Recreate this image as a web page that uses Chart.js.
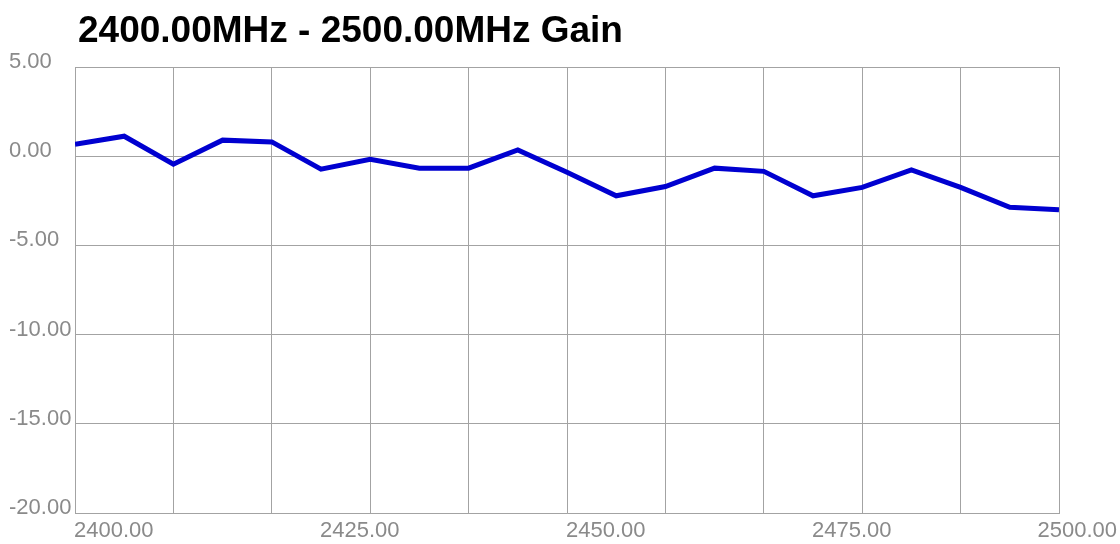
<!DOCTYPE html>
<html>
<head>
<meta charset="utf-8">
<title>2400.00MHz - 2500.00MHz Gain</title>
<script src="https://cdn.jsdelivr.net/npm/chart.js@4.4.1/dist/chart.umd.min.js"></script>
<style>
    html, body { margin: 0; padding: 0; background: #ffffff; }
    #wrap { position: relative; width: 1120px; height: 544px; }
</style>
</head>
<body>
<div id="wrap"><canvas id="gainChart"></canvas></div>
<script>
// Chart data
const TITLE = '2400.00MHz - 2500.00MHz Gain';
const freqs = [2400, 2405, 2410, 2415, 2420, 2425, 2430, 2435, 2440, 2445, 2450,
               2455, 2460, 2465, 2470, 2475, 2480, 2485, 2490, 2495, 2500];
const gain = [0.67, 1.12, -0.45, 0.9, 0.8, -0.73, -0.17, -0.67, -0.67, 0.35, -0.9,
              -2.22, -1.7, -0.67, -0.85, -2.22, -1.75, -0.77, -1.75, -2.86, -3.0];
const xTickValues = [2400, 2425, 2450, 2475, 2500];
const xTickLabels = ['2400.00', '2425.00', '2450.00', '2475.00', '2500.00'];
const yTickValues = [5, 0, -5, -10, -15, -20];
const yTickLabels = ['5.00', '0.00', '-5.00', '-10.00', '-15.00', '-20.00'];

const LABEL_FONT = '22px "Liberation Sans", Arial, sans-serif';
const LABEL_COLOR = '#8a8a8a';
const GRID_COLOR = '#a3a3a3';

// Draws the title and the axis labels the way the original plot places them
const labelPlugin = {
    id: 'gainLabels',
    afterDraw(chart) {
        const ctx = chart.ctx;
        const xs = chart.scales.x;
        const ys = chart.scales.y;
        ctx.save();

        ctx.fillStyle = '#000000';
        ctx.font = 'bold 37px "Liberation Sans", Arial, sans-serif';
        ctx.textAlign = 'left';
        ctx.textBaseline = 'alphabetic';
        ctx.fillText(TITLE, 78, 42);

        ctx.font = LABEL_FONT;
        ctx.fillStyle = LABEL_COLOR;
        yTickValues.forEach((v, i) => {
            ctx.fillText(yTickLabels[i], 9, ys.getPixelForValue(v) + 1);
        });

        xTickValues.forEach((v, i) => {
            const w = ctx.measureText(xTickLabels[i]).width;
            let left = xs.getPixelForValue(v) - 1;
            left = Math.min(left, chart.width - w - 3);
            ctx.fillText(xTickLabels[i], left, 537);
        });
        ctx.restore();
    }
};

const ctx = document.getElementById('gainChart').getContext('2d');
new Chart(ctx, {
    type: 'line',
    data: {
        datasets: [{
            label: 'Gain',
            data: freqs.map((f, i) => ({ x: f, y: gain[i] })),
            borderColor: '#0000d0',
            borderWidth: 5,
            pointRadius: 0,
            tension: 0,
            fill: false
        }]
    },
    options: {
        responsive: true,
        maintainAspectRatio: false,
        animation: false,
        layout: {
            padding: { left: 75, top: 67, right: 61, bottom: 31 }
        },
        plugins: {
            legend: { display: false },
            title: { display: false },
            tooltip: { enabled: false }
        },
        scales: {
            x: {
                type: 'linear',
                min: 2400,
                max: 2500,
                ticks: { display: false, stepSize: 10 },
                grid: { color: GRID_COLOR, drawTicks: false },
                border: { color: GRID_COLOR }
            },
            y: {
                min: -20,
                max: 5,
                ticks: { display: false, stepSize: 5 },
                grid: { color: GRID_COLOR, drawTicks: false },
                border: { color: GRID_COLOR }
            }
        }
    },
    plugins: [labelPlugin]
});
</script>
</body>
</html>
